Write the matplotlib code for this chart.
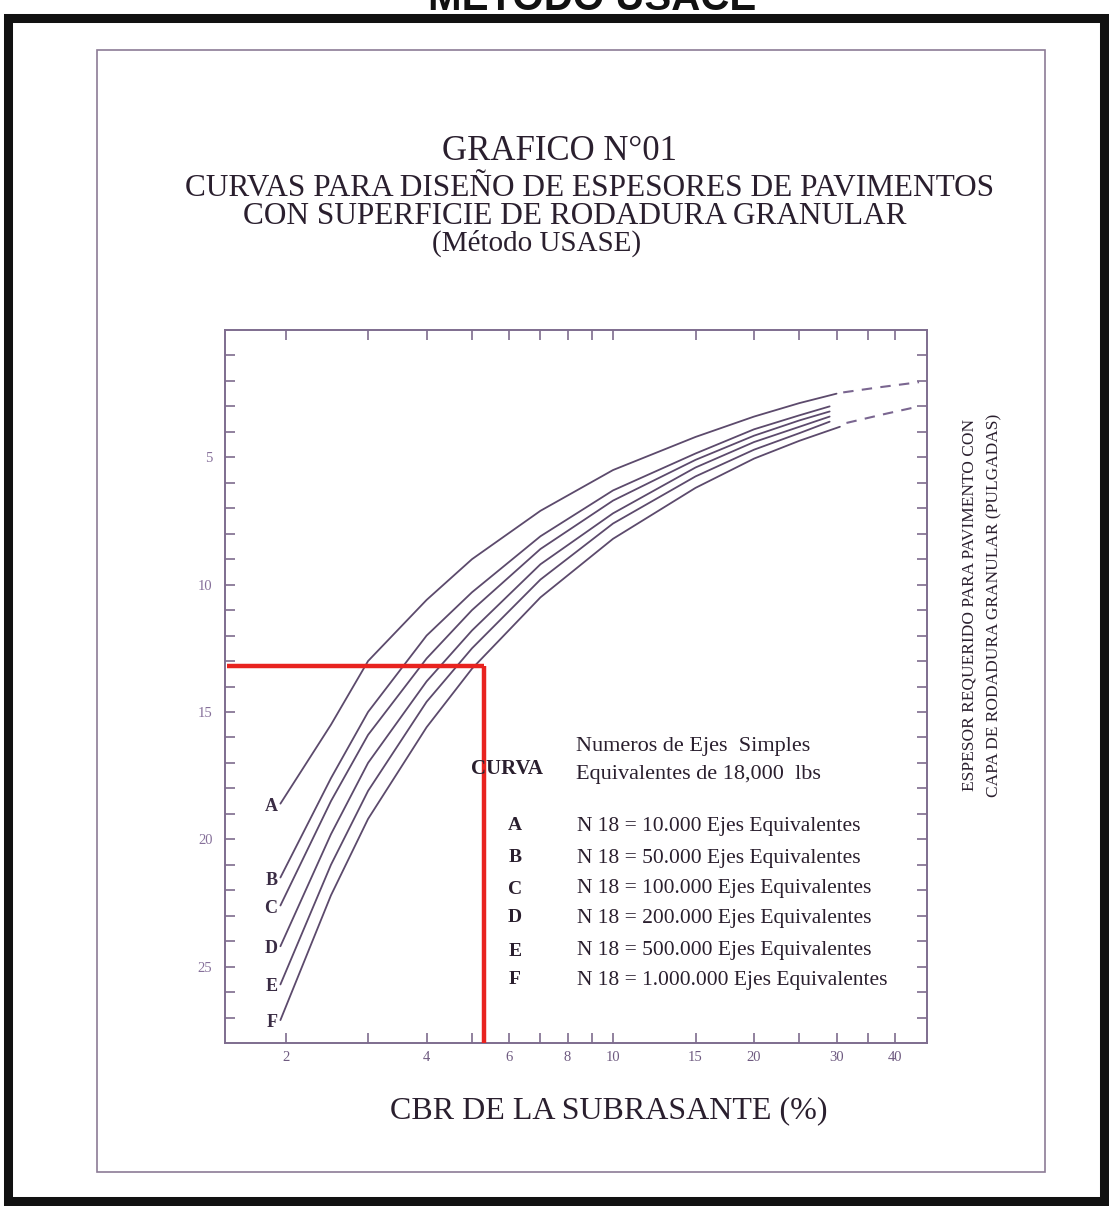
import matplotlib
matplotlib.use('Agg')
import matplotlib.pyplot as plt
from matplotlib.patches import Rectangle
from matplotlib.ticker import FixedLocator, FixedFormatter, NullFormatter

# ---------------- data ----------------
curve_names = ['A', 'B', 'C', 'D', 'E', 'F']
cbr_A = [1.95, 2.5, 3, 4, 5, 7, 10, 15, 20, 25, 30]
esp_A = [18.6, 15.5, 13.0, 10.6, 9.0, 7.1, 5.5, 4.2, 3.4, 2.87, 2.5]
cbr_B = [1.95, 2.5, 3, 4, 5, 7, 10, 15, 20, 25, 29]
esp_B = [21.5, 17.6, 15.0, 12.0, 10.3, 8.1, 6.3, 4.85, 3.9, 3.35, 3.0]
cbr_C = [1.95, 2.5, 3, 4, 5, 7, 10, 15, 20, 25, 29]
esp_C = [22.6, 18.5, 15.9, 12.9, 11.0, 8.6, 6.7, 5.1, 4.15, 3.55, 3.2]
cbr_D = [1.95, 2.5, 3, 4, 5, 7, 10, 15, 20, 25, 29]
esp_D = [24.2, 19.8, 17.0, 13.8, 11.8, 9.2, 7.2, 5.4, 4.4, 3.8, 3.4]
cbr_E = [1.95, 2.5, 3, 4, 5, 7, 10, 15, 20, 25, 29]
esp_E = [25.7, 21.0, 18.1, 14.6, 12.5, 9.8, 7.6, 5.75, 4.7, 4.05, 3.6]
cbr_F = [1.95, 2.5, 3, 4, 5, 7, 10, 15, 20, 25, 30.5]
esp_F = [27.1, 22.2, 19.2, 15.6, 13.3, 10.5, 8.2, 6.2, 5.05, 4.35, 3.8]

# dashed extrapolations
cbr_dash_top = [31, 37, 45]
esp_dash_top = [2.45, 2.25, 2.05]
cbr_dash_bot = [31.5, 38, 45]
esp_dash_bot = [3.65, 3.3, 3.0]

# design example (red lines)
cbr_design = 5.3
esp_design = 13.2

x_ticks = [2, 3, 4, 5, 6, 7, 8, 9, 10, 15, 20, 25, 30, 35, 40]
x_tick_labels = ['2', '', '4', '', '6', '', '8', '', '10', '15', '20', '', '30', '', '40']
y_major = [5, 10, 15, 20, 25]
y_minor = list(range(1, 28))

legend_letters = ['A', 'B', 'C', 'D', 'E', 'F']
legend_texts = ['N 18 = 10.000 Ejes Equivalentes',
                'N 18 = 50.000 Ejes Equivalentes',
                'N 18 = 100.000 Ejes Equivalentes',
                'N 18 = 200.000 Ejes Equivalentes',
                'N 18 = 500.000 Ejes Equivalentes',
                'N 18 = 1.000.000 Ejes Equivalentes']

# ---------------- figure ----------------
W, H = 1109, 1206
fig = plt.figure(figsize=(W / 100, H / 100), dpi=100)
fig.patch.set_facecolor('white')

def fx(x):
    return x / W

def fy(y):
    return 1 - y / H

SERIF = ['Liberation Serif', 'DejaVu Serif']
TXT = '#2a1f2e'
PURP = '#86709a'
LINE = '#5c4a6c'

# outer black border
fig.add_artist(Rectangle((fx(8), fy(1201)), fx(1104) - fx(8), fy(18) - fy(1201),
                         transform=fig.transFigure, fill=False,
                         edgecolor='#111111', linewidth=6.5))
# inner frame
fig.add_artist(Rectangle((fx(97), fy(1172)), fx(1045) - fx(97), fy(50) - fy(1172),
                         transform=fig.transFigure, fill=False,
                         edgecolor='#8c7c96', linewidth=1.2))

# top cut-off title
fig.text(fx(592), fy(10), 'METODO USACE', ha='center', va='baseline',
         fontsize=29, fontweight='bold', family=['Liberation Sans', 'DejaVu Sans'],
         color='#111111')

# titles
fig.text(fx(560), fy(151), 'GRAFICO N°01', ha='center', va='center',
         fontsize=25, family=SERIF, color=TXT)
fig.text(fx(590), fy(189), 'CURVAS PARA DISEÑO DE ESPESORES DE PAVIMENTOS',
         ha='center', va='center', fontsize=22.5, family=SERIF, color=TXT)
fig.text(fx(575), fy(217), 'CON SUPERFICIE DE RODADURA GRANULAR',
         ha='center', va='center', fontsize=22.5, family=SERIF, color=TXT)
fig.text(fx(537), fy(243), '(Método USASE)', ha='center', va='center',
         fontsize=21, family=SERIF, color=TXT)

# ---------------- axes ----------------
L, R, T, B = 225, 927, 330, 1043
ax = fig.add_axes([fx(L), fy(B), fx(R) - fx(L), fy(T) - fy(B)])
ax.set_facecolor('none')
ax.set_xscale('log')
ax.set_xlim(1.485, 46.8)
ax.set_ylim(28, 0)

for s in ax.spines.values():
    s.set_color('#7e6c8e')
    s.set_linewidth(1.4)

ax.xaxis.set_major_locator(FixedLocator(x_ticks))
ax.xaxis.set_major_formatter(FixedFormatter(x_tick_labels))
ax.xaxis.set_minor_locator(FixedLocator([]))
ax.xaxis.set_minor_formatter(NullFormatter())
ax.tick_params(axis='x', which='major', direction='in', top=True, bottom=True,
               length=7, width=1.2, color='#7e6c8e', pad=6,
               labelsize=10.5, labelcolor='#6e5a80')
for lab in ax.get_xticklabels():
    lab.set_family(SERIF)

ax.yaxis.set_major_locator(FixedLocator(y_major))
ax.set_yticklabels([str(v) for v in y_major])
ax.yaxis.set_minor_locator(FixedLocator(y_minor))
ax.tick_params(axis='y', which='both', direction='in', left=True, right=True,
               length=7, width=1.2, color='#7e6c8e', pad=9,
               labelsize=10.5, labelcolor=PURP)
for lab in ax.get_yticklabels():
    lab.set_family(SERIF)

# curves
curves = [(cbr_A, esp_A), (cbr_B, esp_B), (cbr_C, esp_C),
          (cbr_D, esp_D), (cbr_E, esp_E), (cbr_F, esp_F)]
for name, (cx, cy) in zip(curve_names, curves):
    ax.plot(cx, cy, color=LINE, lw=1.3, solid_capstyle='round')
    ax.text(cx[0] * 0.985, cy[0] + 0.1, name, ha='right', va='center',
            fontsize=13, fontweight='bold', family=SERIF, color='#3a2c44')

ax.plot(cbr_dash_top, esp_dash_top, color='#7a6690', lw=1.5, dashes=(5, 4))
ax.plot(cbr_dash_bot, esp_dash_bot, color='#7a6690', lw=1.5, dashes=(5, 4))

# red design lines
RED = '#e8231f'
ax.plot([1.5, cbr_design], [esp_design, esp_design], color=RED, lw=3.2,
        solid_capstyle='butt', zorder=5)
ax.plot([cbr_design, cbr_design], [esp_design, 28], color=RED, lw=3.2,
        solid_capstyle='butt', zorder=5)

# legend block
fig.text(fx(471), fy(769), 'CURVA', ha='left', va='center', fontsize=15,
         family=SERIF, color=TXT, fontweight='bold')
fig.text(fx(576), fy(747), 'Numeros de Ejes  Simples', ha='left', va='center',
         fontsize=16, family=SERIF, color=TXT)
fig.text(fx(576), fy(775), 'Equivalentes de 18,000  lbs', ha='left', va='center',
         fontsize=16, family=SERIF, color=TXT)
rows_y = [826, 858, 889, 918, 951, 980]
for ly, letter, txt in zip(rows_y, legend_letters, legend_texts):
    fig.text(fx(515), fy(ly), letter, ha='center', va='center', fontsize=14,
             family=SERIF, color=TXT, fontweight='bold')
    fig.text(fx(577), fy(ly), txt, ha='left', va='center', fontsize=15.5,
             family=SERIF, color=TXT)

# axis labels
fig.text(fx(609), fy(1111), 'CBR DE LA SUBRASANTE (%)', ha='center', va='center',
         fontsize=23, family=SERIF, color=TXT)
fig.text(fx(970), fy(605), 'ESPESOR REQUERIDO PARA PAVIMENTO CON', ha='center',
         va='center', rotation=90, fontsize=12.5, family=SERIF, color=TXT)
fig.text(fx(994), fy(605), 'CAPA DE RODADURA GRANULAR (PULGADAS)', ha='center',
         va='center', rotation=90, fontsize=12.5, family=SERIF, color=TXT)

fig.savefig('out.png', dpi=100, facecolor='white')
